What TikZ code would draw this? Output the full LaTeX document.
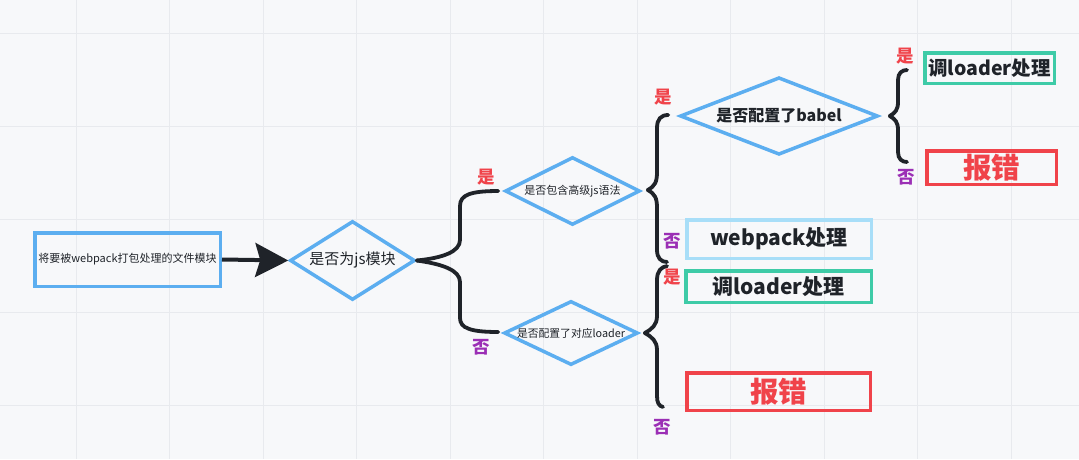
\documentclass[tikz,border=0pt]{standalone}
\usepackage{fontspec}
\setmainfont{Noto Sans CJK SC}
\usetikzlibrary{shapes.geometric,arrows.meta,calc}
\definecolor{bg}{HTML}{F7F8FA}
\definecolor{gridc}{HTML}{E8EAEE}
\definecolor{blu}{HTML}{5CAEF0}
\definecolor{lblu}{HTML}{A8DEF8}
\definecolor{grn}{HTML}{3ECBA7}
\definecolor{rd}{HTML}{F0434A}
\definecolor{pur}{HTML}{9B2FB5}
\definecolor{ink}{HTML}{1F2329}
\tikzset{
  diam/.style={shape=diamond, draw=blu, line width=3.5pt, inner sep=0pt, aspect=2, text=ink},
  boxx/.style={draw=#1, line width=3.5pt, inner sep=0pt, text=ink},
  brace/.style={draw=ink, line width=3.8pt, line cap=round},
  yeslbl/.style={text=rd, font=\fontsize{17.5}{18}\selectfont\bfseries},
  nolbl/.style={text=pur, font=\fontsize{17.5}{18}\selectfont\bfseries},
}
\begin{document}
\begin{tikzpicture}[x=1pt,y=-1pt]
\useasboundingbox (0,0) rectangle (1079,459);
\fill[bg] (0,0) rectangle (1079,459);
\foreach \gx in {76,169.5,263,356.5,450,543.5,637,730.5,824,917.5,1011}
  \draw[gridc, line width=1pt] (\gx,0) -- (\gx,459);
\foreach \gy in {33,126,219,312,405}
  \draw[gridc, line width=1pt] (0,\gy) -- (1079,\gy);

% start box
\node[boxx=blu, minimum width=185.5pt, minimum height=53.5pt, font=\fontsize{11}{12}\selectfont] (src) at (127.5,259.5) {将要被webpack打包处理的文件模块};

% diamonds
\node[diam, minimum width=125pt, minimum height=79pt, font=\fontsize{15}{16}\selectfont] (d1) at (352.5,260.5) {是否为js模块};
\node[diam, minimum width=135pt, minimum height=68pt, font=\fontsize{11}{12}\selectfont] (d2) at (572.5,191) {是否包含高级js语法};
\node[diam, minimum width=134pt, minimum height=64pt, font=\fontsize{10.8}{12}\selectfont] (d3) at (571,333) {是否配置了对应loader};
\node[diam, minimum width=198pt, minimum height=46pt, font=\fontsize{16}{17}\selectfont\bfseries] (d4) at (779,116) {是否配置了babel};

% result boxes
\node[boxx=grn, minimum width=129.5pt, minimum height=30.5pt, font=\fontsize{19.5}{20}\selectfont\bfseries] (r1) at (989.5,68) {调loader处理};
\node[boxx=rd, minimum width=129.5pt, minimum height=33.5pt, text=rd, font=\fontsize{28.5}{29}\selectfont\bfseries] (r2) at (991.5,167.5) {报错};
\node[boxx=lblu, minimum width=184.5pt, minimum height=38.5pt, font=\fontsize{21}{22}\selectfont\bfseries] (r3) at (779,239) {webpack处理};
\node[boxx=grn, minimum width=185.5pt, minimum height=31.5pt, font=\fontsize{21}{22}\selectfont\bfseries] (r4) at (778.5,286.5) {调loader处理};
\node[boxx=rd, minimum width=183.5pt, minimum height=37.5pt, text=rd, font=\fontsize{28.5}{29}\selectfont\bfseries] (r5) at (778.5,391.5) {报错};

% arrow
\draw[ink, line width=4pt, -{Stealth[length=33pt,width=34pt,inset=5pt]}] (src.east) -- (d1.west);

% brace A
\coordinate (aT) at ($(d2.west)+(-5,0)$);
\coordinate (aB) at ($(d3.west)+(-4,-1)$);
\draw[brace] (d1.east) .. controls (442,258) and (460,252) .. (460,240) -- (460,206) .. controls (460,195) and (470,191) .. (aT);
\draw[brace] (d1.east) .. controls (442,264) and (460,270) .. (460,282) -- (460,318) .. controls (460,328) and (470,332) .. (aB);

% brace B
\coordinate (bt) at ($(d2.east)+(6,-1)$);
\coordinate (bU) at ($(d4.west)+(-10,-1)$);
\coordinate (bD) at (667,262);
\draw[brace] (bt) .. controls (655,186) and (657,182) .. (657,172) -- (657,128) .. controls (657,119) and (661,115) .. (bU);
\draw[brace] (bt) .. controls (655,194) and (657,198) .. (657,208) -- (657,250) .. controls (657,258) and (661,262) .. (bD);

% brace C
\coordinate (ct) at ($(d3.east)+(5,0)$);
\coordinate (cU) at (667,266);
\coordinate (cD) at (663,407);
\draw[brace] (ct) .. controls (652,329) and (657,325) .. (657,316) -- (657,280) .. controls (657,271) and (661,267) .. (cU);
\draw[brace] (ct) .. controls (652,337) and (657,341) .. (657,350) -- (657,396) .. controls (657,403) and (659,406) .. (cD);

% brace D
\coordinate (dt) at ($(d4.east)+(10,0)$);
\coordinate (dU) at (907,70);
\coordinate (dD) at (907,162);
\draw[brace] (dt) .. controls (895,113) and (898,110) .. (898,102) -- (898,80) .. controls (898,73) and (902,70) .. (dU);
\draw[brace] (dt) .. controls (895,119) and (898,122) .. (898,130) -- (898,152) .. controls (898,159) and (902,162) .. (dD);

% labels
\node[yeslbl] (y1) at (486,177) {是};
\node[nolbl] (n1) at (481,347) {否};
\node[yeslbl] (y2) at (663,97) {是};
\node[nolbl] (n2) at (672,241) {否};
\node[yeslbl] (y3) at (672,277) {是};
\node[nolbl] (n3) at (662,427) {否};
\node[yeslbl] (y4) at (905,56) {是};
\node[nolbl] (n4) at (906,177) {否};
\end{tikzpicture}
\end{document}
